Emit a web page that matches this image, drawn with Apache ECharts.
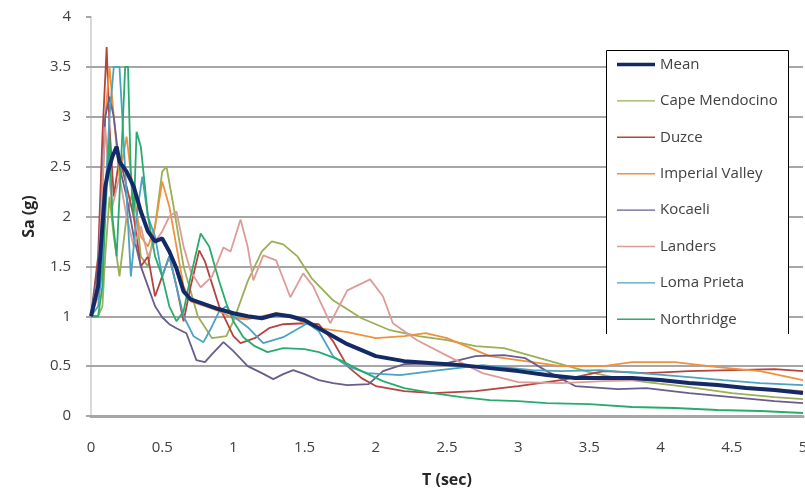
<!DOCTYPE html>
<html>
<head>
<meta charset="utf-8">
<script src="https://cdn.jsdelivr.net/npm/echarts@6/dist/echarts.min.js"></script>
<style>
  html, body { margin: 0; padding: 0; background: #fff; }
  #chart { width: 805px; height: 492px; }
</style>
</head>
<body>
<div id="chart"></div>
<script>
// spectra: [T (sec), Sa (g)]
const mean = [[0,1.0],[0.05,1.3],[0.08,1.9],[0.1,2.3],[0.12,2.45],[0.15,2.6],[0.18,2.7],[0.2,2.55],[0.25,2.45],[0.3,2.3],[0.35,2.05],[0.4,1.85],[0.45,1.75],[0.5,1.78],[0.55,1.65],[0.6,1.48],[0.65,1.25],[0.7,1.17],[0.8,1.12],[0.9,1.07],[1.0,1.03],[1.1,1.0],[1.2,0.98],[1.3,1.02],[1.4,1.0],[1.5,0.96],[1.6,0.88],[1.7,0.8],[1.8,0.72],[1.9,0.66],[2.0,0.6],[2.2,0.55],[2.4,0.53],[2.6,0.51],[2.8,0.48],[3.0,0.45],[3.2,0.41],[3.4,0.38],[3.6,0.38],[3.8,0.38],[4.0,0.36],[4.2,0.33],[4.4,0.31],[4.6,0.28],[4.8,0.26],[5.0,0.23]]
const capeMendocino = [[0,1.0],[0.05,1.0],[0.08,1.1],[0.1,1.6],[0.13,2.2],[0.16,1.8],[0.2,1.4],[0.25,2.0],[0.3,2.3],[0.35,1.6],[0.4,1.5],[0.45,1.9],[0.5,2.45],[0.53,2.5],[0.58,2.1],[0.65,1.5],[0.75,1.0],[0.85,0.78],[0.95,0.8],[1.0,0.95],[1.1,1.35],[1.2,1.65],[1.27,1.75],[1.35,1.72],[1.45,1.6],[1.55,1.38],[1.7,1.16],[1.9,0.98],[2.1,0.86],[2.3,0.8],[2.5,0.76],[2.7,0.7],[2.9,0.68],[3.1,0.6],[3.3,0.52],[3.5,0.44],[3.7,0.38],[3.9,0.34],[4.2,0.29],[4.5,0.23],[4.8,0.19],[5.0,0.17]]
const duzce = [[0,1.0],[0.05,1.6],[0.08,2.8],[0.11,3.7],[0.13,2.9],[0.16,2.2],[0.2,2.6],[0.25,2.3],[0.3,2.0],[0.35,1.5],[0.4,1.6],[0.45,1.2],[0.5,1.4],[0.55,1.6],[0.6,1.3],[0.65,0.95],[0.7,1.3],[0.76,1.66],[0.8,1.55],[0.9,1.1],[1.0,0.8],[1.05,0.73],[1.15,0.78],[1.25,0.88],[1.35,0.92],[1.5,0.93],[1.6,0.92],[1.7,0.75],[1.8,0.5],[1.9,0.38],[2.0,0.3],[2.2,0.25],[2.4,0.23],[2.7,0.25],[3.0,0.3],[3.3,0.36],[3.6,0.45],[3.9,0.43],[4.2,0.45],[4.5,0.46],[4.8,0.47],[5.0,0.45]]
const imperialValley = [[0,1.0],[0.05,1.2],[0.08,2.2],[0.1,3.0],[0.13,3.5],[0.16,3.0],[0.2,2.4],[0.25,2.8],[0.3,2.2],[0.35,1.8],[0.4,1.7],[0.45,1.9],[0.5,2.35],[0.55,2.1],[0.6,1.7],[0.65,1.3],[0.7,1.15],[0.8,1.1],[0.9,1.05],[1.0,0.98],[1.1,0.97],[1.2,1.0],[1.3,1.03],[1.4,1.0],[1.5,0.93],[1.6,0.88],[1.8,0.84],[2.0,0.78],[2.2,0.8],[2.35,0.83],[2.5,0.78],[2.65,0.69],[2.8,0.6],[3.0,0.56],[3.3,0.5],[3.6,0.5],[3.8,0.54],[4.1,0.54],[4.4,0.49],[4.7,0.45],[5.0,0.36]]
const kocaeli = [[0,1.0],[0.05,1.5],[0.08,2.4],[0.1,3.0],[0.13,3.2],[0.16,3.0],[0.2,2.5],[0.25,2.2],[0.3,1.8],[0.35,1.5],[0.4,1.3],[0.45,1.1],[0.5,0.99],[0.55,0.92],[0.6,0.88],[0.67,0.83],[0.74,0.56],[0.8,0.54],[0.85,0.62],[0.93,0.74],[1.0,0.65],[1.1,0.5],[1.2,0.43],[1.28,0.37],[1.35,0.42],[1.42,0.46],[1.5,0.42],[1.6,0.36],[1.7,0.33],[1.8,0.31],[1.95,0.32],[2.05,0.45],[2.2,0.52],[2.5,0.53],[2.7,0.6],[2.9,0.61],[3.05,0.58],[3.2,0.45],[3.4,0.3],[3.7,0.27],[3.9,0.28],[4.2,0.23],[4.5,0.19],[4.8,0.15],[5.0,0.13]]
const landers = [[0,1.0],[0.05,1.4],[0.08,2.3],[0.1,2.9],[0.12,2.5],[0.15,2.1],[0.2,2.4],[0.25,2.0],[0.3,1.7],[0.35,1.9],[0.4,1.6],[0.45,1.75],[0.5,1.85],[0.55,2.0],[0.6,2.05],[0.65,1.7],[0.7,1.45],[0.77,1.29],[0.85,1.4],[0.93,1.69],[0.98,1.65],[1.05,1.97],[1.1,1.7],[1.14,1.36],[1.21,1.61],[1.3,1.56],[1.4,1.19],[1.49,1.43],[1.56,1.3],[1.68,0.93],[1.8,1.26],[1.96,1.37],[2.05,1.2],[2.12,0.93],[2.29,0.76],[2.52,0.59],[2.75,0.43],[3.0,0.34],[3.3,0.33],[3.6,0.35],[3.9,0.36],[4.2,0.33],[4.5,0.3],[4.8,0.27],[5.0,0.25]]
const lomaPrieta = [[0,1.0],[0.05,1.1],[0.08,1.5],[0.1,2.2],[0.13,3.0],[0.16,3.5],[0.2,3.5],[0.22,3.0],[0.25,2.2],[0.28,1.4],[0.32,2.0],[0.36,2.4],[0.4,2.0],[0.45,1.8],[0.5,1.4],[0.55,1.6],[0.6,1.3],[0.65,1.0],[0.72,0.8],[0.79,0.74],[0.85,0.9],[0.9,1.05],[0.95,1.1],[1.0,1.0],[1.1,0.89],[1.21,0.73],[1.35,0.79],[1.52,0.93],[1.6,0.85],[1.7,0.6],[1.8,0.5],[1.94,0.43],[2.17,0.41],[2.45,0.46],[2.75,0.51],[3.1,0.46],[3.3,0.45],[3.57,0.46],[3.86,0.43],[4.2,0.39],[4.44,0.36],[4.7,0.33],[5.0,0.31]]
const northridge = [[0,1.0],[0.05,1.0],[0.08,1.3],[0.1,2.0],[0.13,2.8],[0.15,2.0],[0.18,1.6],[0.21,2.5],[0.24,3.5],[0.26,3.5],[0.28,2.4],[0.3,2.0],[0.32,2.85],[0.35,2.7],[0.4,2.0],[0.45,1.6],[0.5,1.4],[0.55,1.1],[0.6,0.95],[0.65,1.05],[0.7,1.4],[0.77,1.83],[0.83,1.7],[0.9,1.35],[0.95,1.13],[1.0,0.95],[1.07,0.79],[1.15,0.7],[1.24,0.64],[1.35,0.68],[1.5,0.67],[1.6,0.64],[1.75,0.56],[1.9,0.45],[2.05,0.35],[2.2,0.28],[2.4,0.23],[2.6,0.19],[2.8,0.16],[3.0,0.15],[3.2,0.13],[3.5,0.12],[3.8,0.09],[4.1,0.08],[4.4,0.06],[4.7,0.05],[5.0,0.03]]

const names = ['Mean', 'Cape Mendocino', 'Duzce', 'Imperial Valley', 'Kocaeli', 'Landers', 'Loma Prieta', 'Northridge']
const gridValues = [0.5, 1, 1.5, 2, 2.5, 3, 3.5]

const chart = echarts.init(document.getElementById('chart'))

// legend shows plain strokes, no markers
const thinIcon = 'path://M0,0L40,0L40,1.5L0,1.5Z'
const thickIcon = 'path://M0,0L40,0L40,3.5L0,3.5Z'

function quake (name, data, color) {
  return {
    name,
    type: 'line',
    data,
    symbol: 'none',
    z: 3,
    color,
    lineStyle: { width: 1.8, color }
  }
}

const font = '"Open Sans", sans-serif'

chart.setOption({
  animation: false,
  grid: { left: 91, right: 2, top: 17, bottom: 76, outerBoundsMode: 'none', containLabel: false },
  xAxis: {
    type: 'value',
    min: 0,
    max: 5,
    interval: 0.5,
    name: 'T (sec)',
    nameLocation: 'middle',
    nameGap: 56,
    nameTextStyle: { fontFamily: font, fontSize: 16, fontWeight: 'bold', color: '#262626' },
    axisLine: { lineStyle: { color: '#a6a6a6', width: 3 } },
    axisTick: { show: false },
    axisLabel: { margin: 24, fontFamily: font, fontSize: 15, color: '#404040' },
    splitLine: { show: false }
  },
  yAxis: {
    type: 'value',
    min: 0,
    max: 4,
    interval: 0.5,
    name: 'Sa (g)',
    nameLocation: 'middle',
    nameGap: 54,
    nameTextStyle: { fontFamily: font, fontSize: 16, fontWeight: 'bold', color: '#262626' },
    axisLine: { show: true, lineStyle: { color: '#d9d9d9', width: 2 } },
    axisTick: { show: true, length: 5, lineStyle: { color: '#a6a6a6', width: 2 } },
    axisLabel: { margin: 20, fontFamily: font, fontSize: 15, color: '#404040' },
    splitLine: { show: false }
  },
  legend: {
    data: names.map(n => ({ name: n, icon: n === 'Mean' ? thickIcon : thinIcon })),
    orient: 'vertical',
    left: 606,
    top: 50,
    padding: [7, 11, 7, 11],
    backgroundColor: '#fff',
    itemWidth: 38,
    itemHeight: 14,
    itemGap: 21.4,
    textStyle: { fontFamily: font, fontSize: 15, color: '#404040' }
  },
  // legend frame: open at the bottom like the reference
  graphic: [{
    type: 'polyline',
    z: 100,
    shape: { points: [[606.5, 334], [606.5, 50.5], [788.5, 50.5], [788.5, 334]] },
    style: { stroke: '#000', lineWidth: 1, fill: null }
  }],
  series: [
    {
      name: 'grid',
      type: 'line',
      data: [],
      z: 1,
      silent: true,
      markLine: {
        z: 1,
        silent: true,
        symbol: 'none',
        label: { show: false },
        lineStyle: { color: '#a6a6a6', width: 2, type: 'solid' },
        data: gridValues.map(v => ({ yAxis: v }))
      }
    },
    quake('Cape Mendocino', capeMendocino, '#9aaf56'),
    quake('Duzce', duzce, '#b5443f'),
    quake('Imperial Valley', imperialValley, '#f0913e'),
    quake('Kocaeli', kocaeli, '#6a5c8c'),
    quake('Landers', landers, '#dc9c98'),
    quake('Loma Prieta', lomaPrieta, '#4ba3c3'),
    quake('Northridge', northridge, '#2aab6e'),
    {
      name: 'Mean',
      type: 'line',
      data: mean,
      symbol: 'none',
      z: 4,
      color: '#142a66',
      lineStyle: { width: 4, color: '#142a66' }
    }
  ]
})
</script>
</body>
</html>
